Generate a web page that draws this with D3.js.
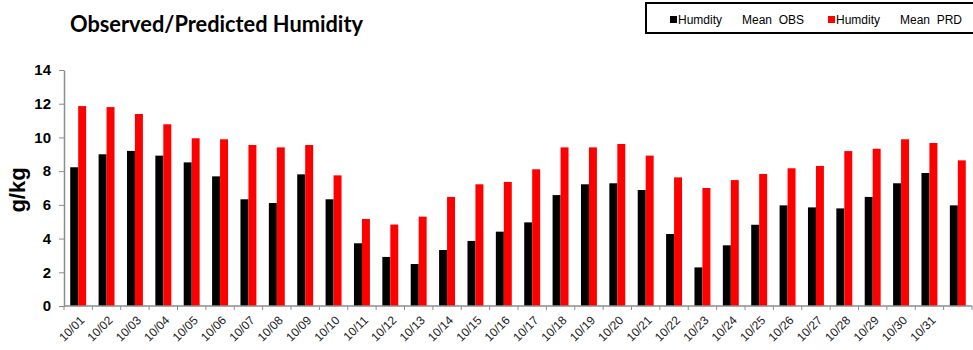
<!DOCTYPE html>
<html><head><meta charset="utf-8">
<script src="https://cdn.jsdelivr.net/npm/d3@7"></script>
<style>body{margin:0;background:#fff}svg{display:block}</style>
</head><body>
<svg id="c" width="973" height="350"></svg>
<script>
const categories = ["10/01","10/02","10/03","10/04","10/05","10/06","10/07","10/08","10/09","10/10","10/11","10/12","10/13","10/14","10/15","10/16","10/17","10/18","10/19","10/20","10/21","10/22","10/23","10/24","10/25","10/26","10/27","10/28","10/29","10/30","10/31",""];
const obsValues = [8.23,9.0,9.2,8.92,8.52,7.69,6.33,6.11,7.81,6.33,3.72,2.91,2.49,3.32,3.86,4.41,4.96,6.58,7.22,7.28,6.88,4.27,2.29,3.60,4.82,5.97,5.85,5.79,6.47,7.28,7.89,5.97];
const prdValues = [11.86,11.8,11.39,10.78,9.95,9.89,9.55,9.41,9.55,7.75,5.16,4.83,5.30,6.47,7.22,7.36,8.11,9.41,9.41,9.61,8.92,7.63,7.0,7.47,7.83,8.17,8.31,9.19,9.33,9.89,9.67,8.64];
const seriesNames = ["Humdity      Mean  OBS","Humdity      Mean  PRD"];
const seriesColors = ["#000000","#ff0000"];
const yTicks = [0,2,4,6,8,10,12,14];
const title = "Observed/Predicted Humidity";
const yTitle = "g/kg";

const svg = d3.select("#c");
const L = 64, R = 972, T = 70, B = 306;
const x0 = d3.scaleBand().domain(d3.range(categories.length)).range([L, R]).paddingInner(0).paddingOuter(0);
const x1 = d3.scaleBand().domain([0,1]).range([0, x0.bandwidth()]).paddingInner(0).paddingOuter(0.78);
const y = d3.scaleLinear().domain([0,14]).range([B, T]);

// bars
const series = [obsValues, prdValues];
series.forEach((vals, s) => {
  svg.append("g").selectAll("rect").data(vals).join("rect")
    .attr("x", (d,i) => x0(i) + x1(s))
    .attr("width", x1.bandwidth())
    .attr("y", d => y(d))
    .attr("height", d => B - y(d))
    .attr("fill", seriesColors[s]);
});

// y axis
const yAxis = svg.append("g").attr("transform", `translate(${L},0)`)
  .call(d3.axisLeft(y).tickValues(yTicks).tickSize(5).tickSizeOuter(0).tickPadding(8));
yAxis.select(".domain").attr("stroke", "#8c8c8c").attr("stroke-width", 1.5);
yAxis.selectAll(".tick line").attr("stroke", "#8c8c8c");
yAxis.selectAll("text").attr("font-family", "Liberation Sans, Arial, sans-serif")
  .attr("font-weight", "bold").attr("font-size", "15px").attr("fill", "#000");

// x axis
const xAxisG = svg.append("g");
xAxisG.append("line").attr("x1", L).attr("x2", R).attr("y1", B).attr("y2", B)
  .attr("stroke", "#8c8c8c").attr("stroke-width", 1.5);
xAxisG.selectAll("line.tk").data(d3.range(categories.length + 1)).join("line").attr("class","tk")
  .attr("x1", i => L + i * x0.step()).attr("x2", i => L + i * x0.step())
  .attr("y1", B).attr("y2", B + 4).attr("stroke", "#8c8c8c");
xAxisG.selectAll("text").data(categories).join("text")
  .attr("transform", (d,i) => `translate(${x0(i) + x0.bandwidth()/2 + 4},${B + 12}) rotate(-45)`)
  .attr("text-anchor", "end").attr("dy", "0.35em")
  .attr("font-family", "Liberation Sans, Arial, sans-serif").attr("font-size", "12px").attr("fill", "#222")
  .text(d => d);

// titles
svg.append("text").attr("x", 70).attr("y", 32).text(title)
  .attr("font-family", "Lato, sans-serif").attr("font-weight", "bold").attr("font-size", "22px")
  .attr("textLength", 293).attr("lengthAdjust", "spacingAndGlyphs").attr("fill", "#000");
svg.append("text").attr("transform", "translate(25,190) rotate(-90)").attr("text-anchor", "middle")
  .attr("font-family", "Liberation Sans, Arial, sans-serif").attr("font-weight", "bold").attr("font-size", "22px")
  .text(yTitle);

// legend
svg.append("rect").attr("x", 646).attr("y", 3).attr("width", 330).attr("height", 30)
  .attr("fill", "#fff").attr("stroke", "#000").attr("stroke-width", 2);
const legX = [670, 828];
seriesNames.forEach((n, s) => {
  svg.append("rect").attr("x", legX[s]).attr("y", 16).attr("width", 7).attr("height", 7).attr("fill", seriesColors[s]);
  svg.append("text").attr("x", legX[s] + 8).attr("y", 24).attr("xml:space", "preserve").style("white-space", "pre")
    .attr("font-family", "Liberation Sans, Arial, sans-serif").attr("font-size", "12px").attr("fill", "#000")
    .text(n);
});
</script>
</body></html>
